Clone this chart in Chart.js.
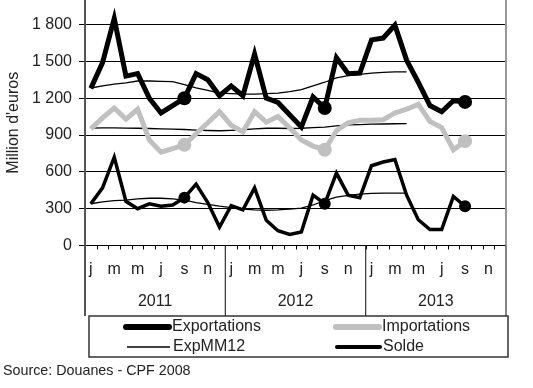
<!DOCTYPE html>
<html>
<head>
<meta charset="utf-8">
<script src="https://cdn.jsdelivr.net/npm/chart.js@4.4.0/dist/chart.umd.min.js"></script>
<style>body{margin:0;background:#fff}canvas{display:block}</style>
</head>
<body>
<canvas id="myChart" width="533" height="388"></canvas>
<script>
const monthLetters=['j','f','m','a','m','j','j','a','s','o','n','d'];
const years=['2011','2012','2013'];
const months=[].concat(monthLetters,monthLetters,monthLetters);
const yTicks=[0,300,600,900,1200,1500,1800];

const exportations=[1280,1490,1850,1380,1400,1200,1080,1140,1200,1400,1350,1220,1300,1220,1560,1200,1165,1065,965,1210,1120,1530,1400,1405,1675,1690,1795,1510,1330,1140,1090,1180,1170];
const importations=[950,1040,1120,1030,1110,860,760,790,820,910,1000,1090,980,925,1090,1005,1050,960,860,810,780,935,1000,1020,1020,1025,1080,1110,1150,1010,960,780,850];
const solde=[340,470,720,360,300,340,320,330,390,500,350,150,325,290,470,205,120,90,110,410,340,590,410,390,650,680,700,410,210,130,130,400,320];
const expMM12=[1283,1300,1315,1325,1340,1340,1337,1335,1310,1285,1264,1242,1237,1234,1234,1237,1242,1253,1270,1300,1330,1365,1384,1394,1405,1411,1414,1415];
const impMM12=[957,958,958,957,955,953,950,948,945,940,937,935,938,943,950,955,955,953,955,960,965,975,982,985,988,990,992,993];
const soldeMM12=[340,355,365,370,380,385,385,380,370,350,335,320,308,297,290,287,290,297,305,330,365,395,408,418,425,427,427,427];
const markers=[8,20,32];

const font="'Liberation Sans', Arial, sans-serif";
const pad36=arr=>arr.concat(Array(36-arr.length).fill(null));
const dots=r=>months.map((m,i)=>markers.includes(i)?r:0);
const fmt=v=>v>=1000?`${Math.floor(v/1000)} ${String(v%1000).padStart(3,'0')}`:`${v}`;

// bottom table, legend, source
const tablePlugin={
    id:'table',
    afterDraw(chart){
        const c=chart.ctx, a=chart.chartArea;
        const w=(a.right-a.left)/36;
        c.save();
        // right border of plot
        c.strokeStyle='#999';c.lineWidth=2;
        c.beginPath();c.moveTo(a.right,0);c.lineTo(a.right,a.bottom);c.stroke();
        // month ticks
        c.strokeStyle='#000';c.lineWidth=1;
        c.beginPath();
        for(let k=1;k<36;k++){
            const x=Math.round(a.left+k*w)+0.5;
            c.moveTo(x,a.bottom);c.lineTo(x,a.bottom+4);
        }
        c.stroke();
        // year separators
        c.strokeStyle='#333';c.lineWidth=1.2;
        c.beginPath();
        for(let k=1;k<=3;k++){
            const x=a.left+k*12*w;
            c.moveTo(x,a.bottom);c.lineTo(x,316);
        }
        c.stroke();
        c.strokeStyle='#555';c.lineWidth=2;
        c.beginPath();c.moveTo(a.left,a.bottom);c.lineTo(a.left,316);c.stroke();
        // year labels
        c.fillStyle='#222';c.font=`16px ${font}`;c.textAlign='center';c.textBaseline='middle';
        years.forEach((y,i)=>c.fillText(y,a.left+(i+0.5)*12*w,302));
        // legend
        c.strokeStyle='#333';c.lineWidth=1.5;
        c.strokeRect(89,316,419,41);
        const items=[
            {label:'Exportations',x:124,y:327,color:'#000',lw:6,cap:'round'},
            {label:'Importations',x:334,y:327,color:'#c0c0c0',lw:6,cap:'round'},
            {label:'ExpMM12',x:125,y:347,color:'#000',lw:1.3,cap:'butt'},
            {label:'Solde',x:335,y:347,color:'#000',lw:4,cap:'round'}
        ];
        c.textAlign='left';
        for(const it of items){
            c.strokeStyle=it.color;c.lineWidth=it.lw;c.lineCap=it.cap;
            c.beginPath();c.moveTo(it.x+2,it.y);c.lineTo(it.x+45,it.y);c.stroke();
            c.fillText(it.label,it.x+48,it.y);
        }
        // source
        c.font=`14.3px ${font}`;
        c.fillText('Source: Douanes - CPF 2008',3,371);
        c.restore();
    }
};

const ctx=document.getElementById('myChart');
const myChart=new Chart(ctx,{
    type:'line',
    data:{
        labels:months,
        datasets:[
            {label:'Exportations',data:pad36(exportations),borderColor:'#000',borderWidth:5,pointRadius:dots(7),pointBackgroundColor:'#000',pointBorderWidth:0,tension:0},
            {label:'Importations',data:pad36(importations),borderColor:'#c0c0c0',borderWidth:5,pointRadius:dots(7),pointBackgroundColor:'#c0c0c0',pointBorderWidth:0,tension:0},
            {label:'ExpMM12',data:pad36(expMM12),borderColor:'#000',borderWidth:1.3,pointRadius:0,tension:0},
            {label:'ImpMM12',data:pad36(impMM12),borderColor:'#000',borderWidth:1.3,pointRadius:0,tension:0},
            {label:'SoldeMM12',data:pad36(soldeMM12),borderColor:'#000',borderWidth:1.3,pointRadius:0,tension:0},
            {label:'Solde',data:pad36(solde),borderColor:'#000',borderWidth:3.5,pointRadius:dots(6),pointBackgroundColor:'#000',pointBorderWidth:0,tension:0}
        ]
    },
    options:{
        responsive:false,
        animation:false,
        devicePixelRatio:1,
        layout:{padding:{left:0,right:27,top:0,bottom:0}},
        plugins:{legend:{display:false},tooltip:{enabled:false}},
        scales:{
            x:{
                offset:true,
                grid:{display:false,drawTicks:false},
                border:{display:false},
                ticks:{autoSkip:false,maxRotation:0,padding:14,color:'#222',font:{family:font,size:16},
                    callback:(v,i)=>i%2===0?months[i]:''},
                afterFit(scale){scale.height=142.5;scale.paddingLeft=0;scale.paddingRight=0;}
            },
            y:{
                min:0,max:2000,
                afterBuildTicks(scale){scale.ticks=yTicks.map(v=>({value:v}));},
                grid:{color:'#000',lineWidth:1,tickLength:6},
                border:{color:'#555',width:2},
                ticks:{padding:7,color:'#222',font:{family:font,size:16},callback:v=>fmt(v)},
                title:{display:true,text:"Million d'euros",color:'#222',font:{family:font,size:16}},
                afterFit(scale){scale.width=85;scale.paddingTop=0;scale.paddingBottom=0;}
            }
        }
    },
    plugins:[tablePlugin]
});
</script>
</body>
</html>
